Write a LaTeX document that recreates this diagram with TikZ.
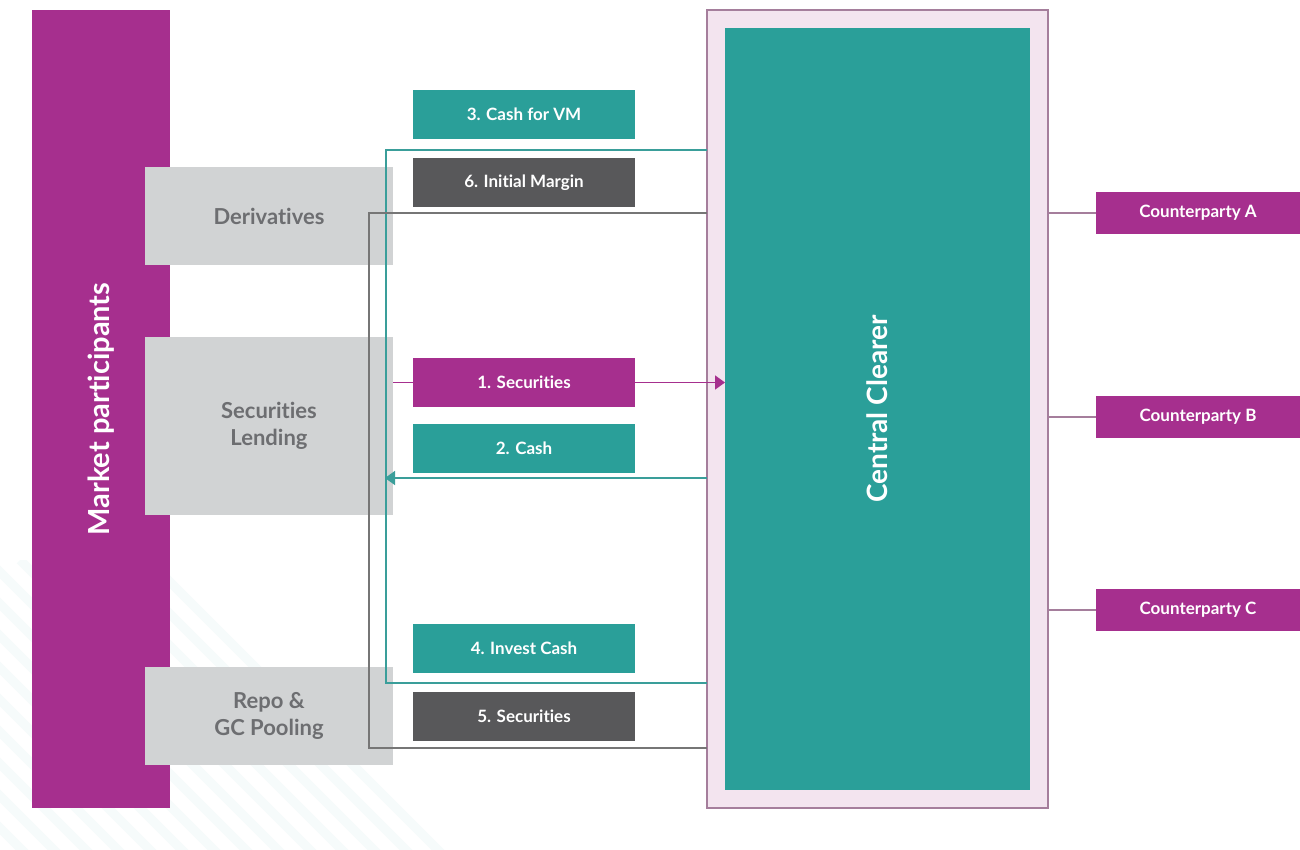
\documentclass[tikz,border=0pt]{standalone}
\usepackage{fontspec}
\setmainfont[Ligatures=NoCommon]{Lato}
\usetikzlibrary{arrows.meta,calc}
\definecolor{mag}{HTML}{A62F8E}
\definecolor{teal}{HTML}{2A9F99}
\definecolor{dgray}{HTML}{58585A}
\definecolor{lgray}{HTML}{D1D3D4}
\definecolor{tgray}{HTML}{6D6E71}
\definecolor{frame}{HTML}{F3E4EF}
\definecolor{framel}{HTML}{A57E9C}
\definecolor{tline}{HTML}{3A9E9A}
\definecolor{gline}{HTML}{767676}
\tikzset{
  x=1pt,y=-1pt,
  box/.style={anchor=north west,inner sep=0pt,outer sep=0pt},
  lbl/.style={box,minimum width=222pt,minimum height=49pt,text=white,font=\fontsize{17}{20}\selectfont\bfseries},
  grp/.style={box,fill=lgray,minimum width=248pt,text=tgray,align=center,font=\fontsize{22}{27}\selectfont\bfseries},
  cpty/.style={box,fill=mag,minimum width=204pt,minimum height=42pt,text=white,font=\fontsize{17}{20}\selectfont\bfseries},
  link/.style={line width=1.6pt},
}
\begin{document}
\begin{tikzpicture}
\useasboundingbox (0,0) rectangle (1300,850);
\fill[white] (0,0) rectangle (1300,850);
% faint diagonal shading in the lower left corner
\begin{scope}
\clip (0,560) rectangle (700,850);
\foreach \i in {0,...,14}
  \draw[line width=9pt,color=teal!4] ($(-300,560)+(\i*32,0)$) -- ++(340,340);
\end{scope}

% market participants column
\node[box,fill=mag,minimum width=138pt,minimum height=798pt] (mp) at (32,10) {};
\node[rotate=90,text=white,font=\fontsize{29}{34}\selectfont\bfseries] (mpt) at (mp.center) {Market participants};

% business groups
\node[grp,minimum height=98pt] (deriv) at (145,167) {Derivatives};
\node[grp,minimum height=178pt] (sl) at (145,337) {Securities\\Lending};
\node[grp,minimum height=98pt] (repo) at (145,667) {Repo \&\\GC Pooling};

% central clearer
\node[box,fill=frame,draw=framel,line width=1.5pt,minimum width=341pt,minimum height=798pt] (ccf) at (707,10) {};
\node[box,fill=teal,minimum width=305pt,minimum height=762pt] (cc) at (725,28) {};
\node[rotate=90,text=white,font=\fontsize{28}{33}\selectfont\bfseries] (cct) at (cc.center) {Central Clearer};

% counterparties
\node[cpty] (ca) at (1096,192) {Counterparty A};
\node[cpty] (cb) at (1096,396) {Counterparty B};
\node[cpty] (cc3) at (1096,589) {Counterparty C};
\foreach \n in {ca,cb,cc3}
  \draw[link,color=framel] (\n.west) -- (\n.west -| ccf.east);

% margin and cash loops
\coordinate (t1) at (707,150);
\coordinate (t2) at (707,683);
\draw[link,color=tline] (t1) -- (386,150) -- (386,683) -- (t2);
\coordinate (g1) at (707,213);
\coordinate (g2) at (707,748);
\draw[link,color=gline] (g1) -- (369,213) -- (369,748) -- (g2);

% securities and cash legs
\coordinate (s1) at (393,382.5);
\draw[link,color=mag,-{Triangle[length=10pt,width=14pt]}] (s1) -- (s1 -| cc.west);
\coordinate (c1) at (707,478);
\coordinate (c2) at (385,478);
\draw[link,color=tline,-{Triangle[length=10pt,width=14pt]}] (c1) -- (c2);

% flow labels
\node[lbl,fill=teal] (l3) at (413,90) {3. Cash for VM};
\node[lbl,fill=dgray] (l6) at (413,158) {6. Initial Margin};
\node[lbl,fill=mag] (l1) at (413,358) {1. Securities};
\node[lbl,fill=teal] (l2) at (413,424) {2. Cash};
\node[lbl,fill=teal] (l4) at (413,624) {4. Invest Cash};
\node[lbl,fill=dgray] (l5) at (413,692) {5. Securities};
\end{tikzpicture}
\end{document}
